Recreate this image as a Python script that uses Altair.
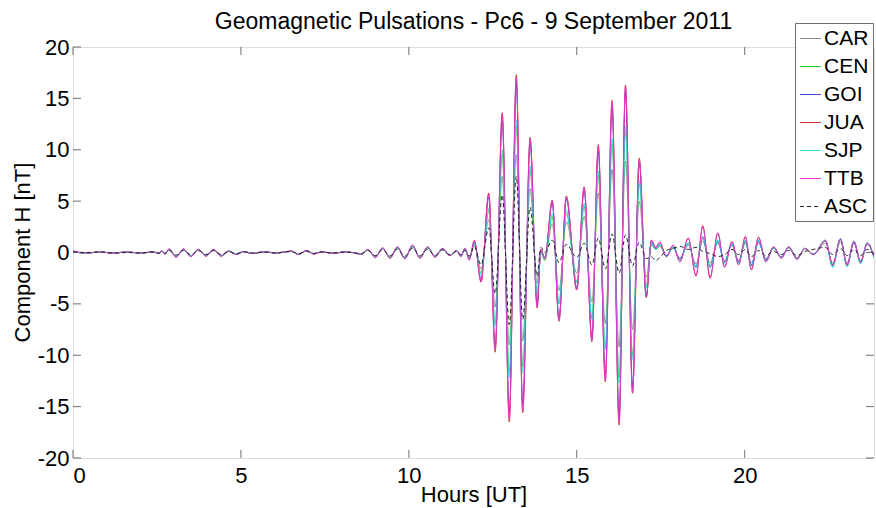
import altair as alt
import pandas as pd

TITLE = "Geomagnetic Pulsations - Pc6 - 9 September 2011"

HOURS = [
    0.00, 0.40, 0.80, 1.20, 1.60, 2.00, 2.40, 2.55, 2.65, 2.74,
    2.86, 3.07, 3.29, 3.51, 3.73, 3.96, 4.19, 4.41, 4.64, 4.86,
    5.08, 5.35, 5.70, 6.05, 6.30, 6.50, 6.72, 6.95, 7.17, 7.40,
    7.75, 8.10, 8.40, 8.58, 8.78, 9.00, 9.22, 9.44, 9.66, 9.88,
    10.11, 10.33, 10.56, 10.78, 11.00, 11.22, 11.42, 11.55, 11.67, 11.80,
    11.95, 12.15, 12.38, 12.57, 12.78, 12.99, 13.20, 13.39, 13.61, 13.82,
    13.93, 14.05, 14.27, 14.47, 14.69, 15.00, 15.22, 15.45, 15.64, 15.85,
    16.05, 16.26, 16.45, 16.66, 16.86, 17.07, 17.22, 17.35, 17.47, 17.67,
    17.87, 18.07, 18.32, 18.55, 18.75, 18.97, 19.20, 19.40, 19.62, 19.82,
    20.02, 20.20, 20.41, 20.63, 20.86, 21.09, 21.31, 21.56, 21.79, 22.05,
    22.40, 22.62, 22.85, 23.05, 23.25, 23.45, 23.65, 23.85,
]

CAR = [
    0.05, -0.05, 0.05, -0.05, 0.05, -0.05, 0.05, -0.08, 0.10, -0.10,
    0.25, -0.35, 0.25, -0.30, 0.22, -0.28, 0.22, -0.28, 0.10, -0.15,
    0.08, -0.08, 0.05, -0.05, 0.05, 0.10, -0.15, 0.15, -0.10, 0.05,
    -0.05, 0.05, -0.05, -0.15, 0.22, -0.38, 0.35, -0.42, 0.42, -0.45,
    0.50, -0.42, 0.40, -0.35, 0.30, -0.25, 0.15, -0.30, 0.30, -0.45,
    0.70, -1.60, 3.20, -5.30, 7.40, -9.00, 9.50, -8.60, 6.20, -3.00,
    0.10, -0.50, 2.80, -3.70, 3.00, -2.00, 3.50, -4.80, 5.80, -6.90,
    8.10, -9.20, 8.90, -7.50, 5.00, -2.40, 0.70, 0.30, 0.60, -0.30,
    0.40, -0.50, 0.70, -1.10, 1.10, -1.00, 0.90, -0.80, 0.70, -0.80,
    0.90, -1.00, 0.90, -0.60, 0.40, -0.40, 0.45, -0.50, 0.35, -0.15,
    0.90, -1.00, 1.00, -1.00, 0.85, -0.80, 0.75, -0.40,
]

CEN = [
    0.05, -0.05, 0.05, -0.05, 0.05, -0.05, 0.05, -0.08, 0.12, -0.12,
    0.30, -0.40, 0.30, -0.35, 0.25, -0.30, 0.25, -0.30, 0.12, -0.15,
    0.08, -0.08, 0.06, -0.05, 0.05, 0.12, -0.18, 0.18, -0.12, 0.05,
    -0.06, 0.05, -0.05, -0.15, 0.25, -0.40, 0.40, -0.45, 0.45, -0.50,
    0.55, -0.45, 0.45, -0.40, 0.30, -0.25, 0.15, -0.30, 0.30, -0.50,
    0.80, -2.00, 4.10, -6.90, 9.60, -11.70, 12.30, -11.10, 8.00, -4.00,
    0.00, -0.80, 3.50, -5.00, 3.80, -2.90, 4.50, -6.40, 7.50, -9.30,
    10.60, -12.20, 11.80, -10.00, 6.70, -3.30, 0.80, 0.30, 0.70, -0.40,
    0.50, -0.70, 0.90, -1.40, 1.40, -1.30, 1.10, -1.00, 0.80, -0.95,
    1.10, -1.30, 1.10, -0.75, 0.45, -0.50, 0.50, -0.60, 0.40, -0.20,
    1.10, -1.35, 1.25, -1.30, 1.05, -1.05, 0.90, -0.50,
]

GOI = [
    0.10, -0.05, 0.05, -0.05, 0.05, -0.05, 0.05, -0.10, 0.12, -0.15,
    0.30, -0.40, 0.30, -0.35, 0.28, -0.32, 0.28, -0.32, 0.12, -0.18,
    0.08, -0.10, 0.06, -0.05, 0.05, 0.12, -0.18, 0.18, -0.12, 0.05,
    -0.06, 0.05, -0.05, -0.18, 0.28, -0.45, 0.40, -0.50, 0.50, -0.55,
    0.62, -0.50, 0.50, -0.40, 0.35, -0.28, 0.18, -0.35, 0.35, -0.60,
    1.00, -2.60, 5.40, -9.10, 12.80, -15.60, 16.40, -14.80, 10.60, -5.00,
    0.20, -0.50, 4.80, -6.30, 5.20, -3.40, 6.00, -8.20, 9.90, -11.90,
    14.00, -15.90, 15.50, -13.00, 8.70, -4.20, 1.00, 0.40, 0.80, -0.30,
    0.50, -0.60, 0.90, -1.40, 1.50, -1.40, 1.10, -0.90, 0.80, -0.90,
    1.10, -1.20, 1.10, -0.70, 0.45, -0.45, 0.50, -0.60, 0.40, -0.15,
    1.20, -1.30, 1.35, -1.25, 1.10, -0.95, 0.95, -0.45,
]

JUA = [
    0.15, -0.05, 0.05, -0.08, 0.05, -0.05, 0.05, -0.10, 0.15, -0.15,
    0.35, -0.45, 0.35, -0.40, 0.30, -0.35, 0.30, -0.35, 0.15, -0.20,
    0.10, -0.10, 0.08, -0.05, 0.05, 0.15, -0.20, 0.20, -0.15, 0.05,
    -0.08, 0.05, -0.05, -0.20, 0.30, -0.50, 0.45, -0.55, 0.55, -0.60,
    0.70, -0.55, 0.55, -0.45, 0.40, -0.30, 0.20, -0.40, 0.40, -0.70,
    1.20, -2.90, 5.80, -9.70, 13.60, -16.50, 17.30, -15.60, 11.20, -5.40,
    0.30, -0.60, 5.10, -6.70, 5.50, -3.65, 6.40, -8.70, 10.50, -12.60,
    14.80, -16.80, 16.30, -13.70, 9.20, -4.40, 1.20, 0.50, 1.00, -0.40,
    0.70, -0.90, 1.40, -2.30, 2.60, -2.50, 1.90, -1.40, 1.05, -1.20,
    1.55, -1.70, 1.50, -0.90, 0.55, -0.55, 0.55, -0.65, 0.40, -0.20,
    1.15, -1.20, 1.30, -1.20, 1.05, -0.90, 0.90, -0.40,
]

SJP = [
    0.05, -0.05, 0.05, -0.05, 0.05, -0.05, 0.05, -0.08, 0.12, -0.12,
    0.30, -0.40, 0.30, -0.35, 0.25, -0.30, 0.25, -0.30, 0.12, -0.15,
    0.08, -0.08, 0.06, -0.05, 0.05, 0.12, -0.18, 0.18, -0.12, 0.05,
    -0.06, 0.05, -0.05, -0.18, 0.25, -0.45, 0.40, -0.50, 0.50, -0.55,
    0.60, -0.50, 0.50, -0.40, 0.35, -0.25, 0.15, -0.35, 0.35, -0.55,
    0.90, -2.20, 4.30, -7.20, 10.00, -12.20, 12.90, -11.70, 8.40, -4.10,
    0.10, -0.60, 3.80, -5.00, 4.10, -2.80, 4.80, -6.50, 7.90, -9.50,
    11.10, -12.70, 12.30, -10.40, 7.00, -3.40, 0.90, 0.30, 0.80, -0.40,
    0.50, -0.70, 0.90, -1.50, 1.60, -1.50, 1.20, -1.00, 0.85, -1.00,
    1.20, -1.35, 1.20, -0.80, 0.45, -0.50, 0.55, -0.65, 0.40, -0.20,
    1.20, -1.45, 1.35, -1.40, 1.10, -1.10, 0.95, -0.55,
]

TTB = [
    0.10, -0.05, 0.05, -0.05, 0.05, -0.05, 0.05, -0.10, 0.15, -0.15,
    0.35, -0.45, 0.35, -0.40, 0.30, -0.35, 0.30, -0.35, 0.15, -0.20,
    0.10, -0.10, 0.08, -0.05, 0.05, 0.15, -0.20, 0.20, -0.15, 0.05,
    -0.08, 0.05, -0.05, -0.20, 0.30, -0.50, 0.45, -0.55, 0.55, -0.60,
    0.70, -0.55, 0.55, -0.45, 0.40, -0.30, 0.20, -0.40, 0.40, -0.70,
    1.10, -2.80, 5.70, -9.40, 13.40, -16.20, 17.00, -15.40, 11.00, -5.30,
    0.30, -0.60, 5.00, -6.60, 5.40, -3.60, 6.30, -8.50, 10.30, -12.40,
    14.60, -16.50, 16.10, -13.50, 9.00, -4.30, 1.20, 0.50, 1.00, -0.40,
    0.70, -0.90, 1.40, -2.20, 2.50, -2.40, 1.90, -1.40, 1.05, -1.15,
    1.50, -1.65, 1.45, -0.90, 0.55, -0.55, 0.55, -0.65, 0.40, -0.20,
    1.15, -1.20, 1.30, -1.20, 1.05, -0.90, 0.90, -0.40,
]

ASC = [
    0.05, 0.00, 0.05, -0.05, 0.00, -0.05, 0.05, -0.05, 0.08, -0.08,
    0.20, -0.25, 0.20, -0.22, 0.18, -0.20, 0.18, -0.20, 0.08, -0.10,
    0.05, -0.05, 0.05, -0.05, 0.05, 0.08, -0.12, 0.12, -0.08, 0.05,
    -0.05, 0.05, -0.05, -0.10, 0.18, -0.30, 0.28, -0.32, 0.32, -0.35,
    0.40, -0.32, 0.32, -0.28, 0.25, -0.20, 0.10, -0.20, 0.20, -0.35,
    0.60, -1.20, 2.40, -4.00, 5.60, -7.00, 7.40, -6.50, 4.40, -2.30,
    0.50, 0.00, 1.20, -1.00, 0.80, -0.50, 0.90, -1.20, 1.40, -1.60,
    1.80, -2.00, 1.70, -1.30, 1.00, -0.60, -0.40, -0.80, -0.50, 0.20,
    0.40, 0.60, 0.30, 0.50, 0.10, -0.10, -0.40, -0.20, 0.30, -0.20,
    0.30, -0.40, 0.20, -0.30, 0.10, -0.20, 0.20, -0.30, 0.10, 0.30,
    0.50, -0.20, 0.40, -0.30, 0.30, -0.30, 0.30, -0.20,
]

STATIONS = ["CAR", "CEN", "GOI", "JUA", "SJP", "TTB", "ASC"]
SERIES = [CAR, CEN, GOI, JUA, SJP, TTB, ASC]
COLORS = ["#8a8a8a", "#2fcf2f", "#4646d6", "#c83232", "#2fe0e0", "#e433d8", "#222222"]
DASHES = [[1, 0], [1, 0], [1, 0], [1, 0], [1, 0], [1, 0], [4, 3]]

Y_TICKS = [-20, -15, -10, -5, 0, 5, 10, 15, 20]
X_TICKS = [0, 5, 10, 15, 20]

rows = []
for name, vals in zip(STATIONS, SERIES):
    assert len(vals) == len(HOURS), name
    for h, v in zip(HOURS, vals):
        rows.append({"hour": h, "value": v, "station": name})
df = pd.DataFrame(rows)

W, H = 801, 411
FONT = "Liberation Sans"
AX = "#6e6e6e"

xscale = alt.Scale(domain=[0, 23.85], nice=False, zero=False)
yscale = alt.Scale(domain=[-20, 20], nice=False, zero=False)

legend = alt.Legend(
    title=None, orient="none", legendX=722, legendY=-24,
    symbolType="stroke", symbolSize=441, symbolStrokeWidth=1.2,
    labelFontSize=21, labelFont=FONT, labelColor="black", labelOffset=2,
    padding=4, rowPadding=6, strokeColor=AX, fillColor="white",
)

lines = alt.Chart(df).mark_line(strokeWidth=1, interpolate="monotone", clip=True).encode(
    x=alt.X("hour:Q", scale=xscale, axis=alt.Axis(
        values=X_TICKS, title="Hours [UT]", labelExpr="'' + datum.value",
        tickSize=0, domain=False, grid=False, labelPadding=7,
        labelFontSize=22, labelFont=FONT, labelColor="black",
        titleFontSize=22, titleFont=FONT, titleFontWeight="normal", titleColor="black",
        titleY=36, titleBaseline="middle")),
    y=alt.Y("value:Q", scale=yscale, axis=alt.Axis(
        values=Y_TICKS, title="Component H [nT]", labelExpr="'' + datum.value",
        tickSize=0, domain=False, grid=False, labelPadding=4,
        labelFontSize=22, labelFont=FONT, labelColor="black",
        titleFontSize=22, titleFont=FONT, titleFontWeight="normal", titleColor="black",
        titleX=-51, titleY=205, titleBaseline="middle", titleAngle=270)),
    color=alt.Color("station:N", scale=alt.Scale(domain=STATIONS, range=COLORS), legend=legend),
    strokeDash=alt.StrokeDash("station:N", scale=alt.Scale(domain=STATIONS, range=DASHES), legend=legend),
)

ydf = pd.DataFrame({"v": Y_TICKS})
xdf = pd.DataFrame({"v": X_TICKS})
ytl = alt.Chart(ydf).mark_rule(color=AX, strokeWidth=1).encode(y=alt.Y("v:Q", scale=yscale), x=alt.value(0), x2=alt.value(8))
ytr = alt.Chart(ydf).mark_rule(color=AX, strokeWidth=1).encode(y=alt.Y("v:Q", scale=yscale), x=alt.value(W - 8), x2=alt.value(W))
xtb = alt.Chart(xdf).mark_rule(color=AX, strokeWidth=1).encode(x=alt.X("v:Q", scale=xscale), y=alt.value(H - 8), y2=alt.value(H))
xtt = alt.Chart(xdf).mark_rule(color=AX, strokeWidth=1).encode(x=alt.X("v:Q", scale=xscale), y=alt.value(0), y2=alt.value(8))

title = alt.Chart(pd.DataFrame({"t": [TITLE]})).mark_text(
    fontSize=23, font=FONT, color="black", align="center", baseline="alphabetic"
).encode(text="t:N", x=alt.value(W / 2), y=alt.value(-18))

chart = alt.layer(ytl, ytr, xtb, xtt, lines, title).properties(
    width=W, height=H,
    autosize=alt.AutoSizeParams(type="none"),
    padding={"left": 73, "top": 47, "right": 2, "bottom": 50},
).configure_view(stroke=AX, strokeWidth=1).configure(background="white")

chart.save("out.html", embed_options={"renderer": "svg", "actions": False})
